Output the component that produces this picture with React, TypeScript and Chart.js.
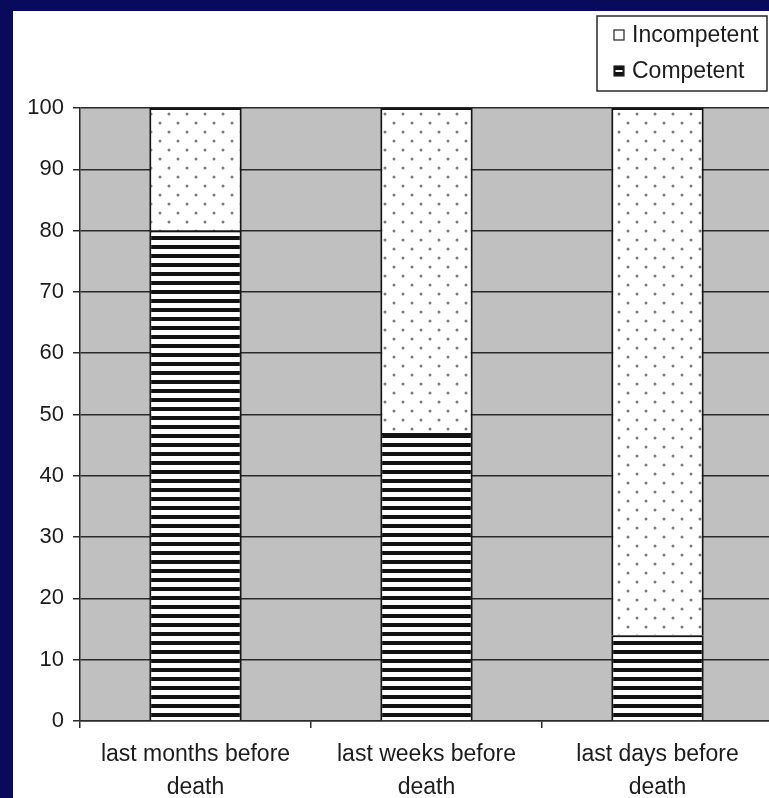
import { useEffect, useRef } from "react";
import { Chart, registerables } from "chart.js";

Chart.register(...registerables);

// Phases before death (two-line category labels)
const categories: string[][] = [
  ["last months before", "death"],
  ["last weeks before", "death"],
  ["last days before", "death"],
];

// Percentage of patients in each phase
const competent = [80, 47, 14];
const incompetent = [20, 53, 86];

const seriesLabels = ["Competent", "Incompetent"];

const FONT = "'Liberation Sans', Arial, Helvetica, sans-serif";
const INK = "#1c1c1c";
const LINE = "#2a2a2a";

function stripePattern(): CanvasPattern | string {
  const c = document.createElement("canvas");
  c.width = 4;
  c.height = 9;
  const g = c.getContext("2d");
  if (!g) return "#000";
  g.fillStyle = "#ffffff";
  g.fillRect(0, 0, 4, 9);
  g.fillStyle = "#111111";
  g.fillRect(0, 0, 4, 4);
  return g.createPattern(c, "repeat") || "#000";
}

function dotPattern(): CanvasPattern | string {
  const c = document.createElement("canvas");
  c.width = 18;
  c.height = 18;
  const g = c.getContext("2d");
  if (!g) return "#fff";
  g.fillStyle = "#ffffff";
  g.fillRect(0, 0, 18, 18);
  g.fillStyle = "#7a7a7a";
  g.beginPath();
  g.arc(3, 4, 1.5, 0, Math.PI * 2);
  g.fill();
  g.beginPath();
  g.arc(12, 13, 1.5, 0, Math.PI * 2);
  g.fill();
  return g.createPattern(c, "repeat") || "#fff";
}

// Grey fill behind the plotting area
const plotBackground = {
  id: "plotBackground",
  beforeDraw(chart: any) {
    const { ctx, chartArea } = chart;
    if (!chartArea) return;
    ctx.save();
    ctx.fillStyle = "#c0c0c0";
    ctx.fillRect(
      chartArea.left,
      chartArea.top,
      chartArea.right - chartArea.left,
      chartArea.bottom - chartArea.top
    );
    ctx.restore();
  },
};

// Boxed legend in the top-right corner, topmost series first
const boxedLegend = {
  id: "boxedLegend",
  afterDraw(chart: any) {
    const { ctx } = chart;
    const left = 584;
    const top = 5;
    const width = 170;
    const height = 75;
    ctx.save();
    ctx.fillStyle = "#ffffff";
    ctx.fillRect(left, top, width, height);
    ctx.strokeStyle = LINE;
    ctx.lineWidth = 1.5;
    ctx.strokeRect(left, top, width, height);

    const datasets = [...chart.data.datasets].reverse();
    datasets.forEach((ds: any, i: number) => {
      const cy = top + 19 + i * 36;
      const mx = 601;
      const size = 10;
      if (ds.label === "Competent") {
        ctx.fillStyle = "#111";
        ctx.fillRect(mx, cy - size / 2, size, size);
        ctx.fillStyle = "#fff";
        ctx.fillRect(mx + 1.5, cy - 1, size - 3, 2);
      } else {
        ctx.fillStyle = "#fff";
        ctx.fillRect(mx, cy - size / 2, size, size);
      }
      ctx.strokeStyle = "#222";
      ctx.lineWidth = 1.2;
      ctx.strokeRect(mx, cy - size / 2, size, size);

      ctx.fillStyle = INK;
      ctx.font = `23px ${FONT}`;
      ctx.textAlign = "left";
      ctx.textBaseline = "middle";
      ctx.fillText(ds.label, 619, cy + 1);
    });
    ctx.restore();
  },
};

function BarChart() {
  const ref = useRef<HTMLCanvasElement | null>(null);

  useEffect(() => {
    if (!ref.current) return;
    const chart = new Chart(ref.current, {
      type: "bar",
      data: {
        labels: categories,
        datasets: [
          {
            label: seriesLabels[0],
            data: competent,
            backgroundColor: stripePattern() as any,
            borderColor: "#151515",
            borderWidth: 2,
            barPercentage: 0.4,
            categoryPercentage: 1,
          },
          {
            label: seriesLabels[1],
            data: incompetent,
            backgroundColor: dotPattern() as any,
            borderColor: "#151515",
            borderWidth: 2,
            barPercentage: 0.4,
            categoryPercentage: 1,
          },
        ],
      },
      options: {
        responsive: false,
        animation: false,
        devicePixelRatio: 1,
        layout: { padding: { top: 97, right: 2, left: 0, bottom: 0 } },
        plugins: {
          legend: { display: false },
          tooltip: { enabled: false },
        },
        scales: {
          x: {
            stacked: true,
            grid: {
              offset: true,
              drawOnChartArea: false,
              drawTicks: true,
              tickLength: 7,
              color: LINE,
              lineWidth: 1.5,
            },
            border: { color: LINE, width: 1.5 },
            ticks: {
              color: INK,
              font: { family: FONT, size: 23, lineHeight: 1.43 },
              padding: 10,
              maxRotation: 0,
              autoSkip: false,
            },
            afterFit: (s: any) => {
              s.height = 77;
            },
          },
          y: {
            stacked: true,
            min: 0,
            max: 100,
            grid: {
              color: LINE,
              lineWidth: 1.5,
              tickLength: 7,
            },
            border: { color: LINE, width: 1.5 },
            ticks: {
              stepSize: 10,
              color: INK,
              font: { family: FONT, size: 22 },
              padding: 9,
            },
            afterFit: (s: any) => {
              s.width = 67;
            },
          },
        },
      },
      plugins: [plotBackground, boxedLegend],
    });
    return () => chart.destroy();
  }, []);

  return (
    <canvas
      ref={ref}
      width={762}
      height={787}
      style={{ display: "block", width: 762, height: 787 }}
    />
  );
}

export default function App() {
  return (
    <div
      style={{
        position: "fixed",
        left: 0,
        top: 0,
        width: 769,
        height: 798,
        background: "#0a0a5c",
        overflow: "hidden",
      }}
    >
      <div
        style={{
          position: "absolute",
          left: 13,
          top: 11,
          width: 756,
          height: 787,
          background: "#ffffff",
          overflow: "hidden",
        }}
      >
        <BarChart />
      </div>
    </div>
  );
}
